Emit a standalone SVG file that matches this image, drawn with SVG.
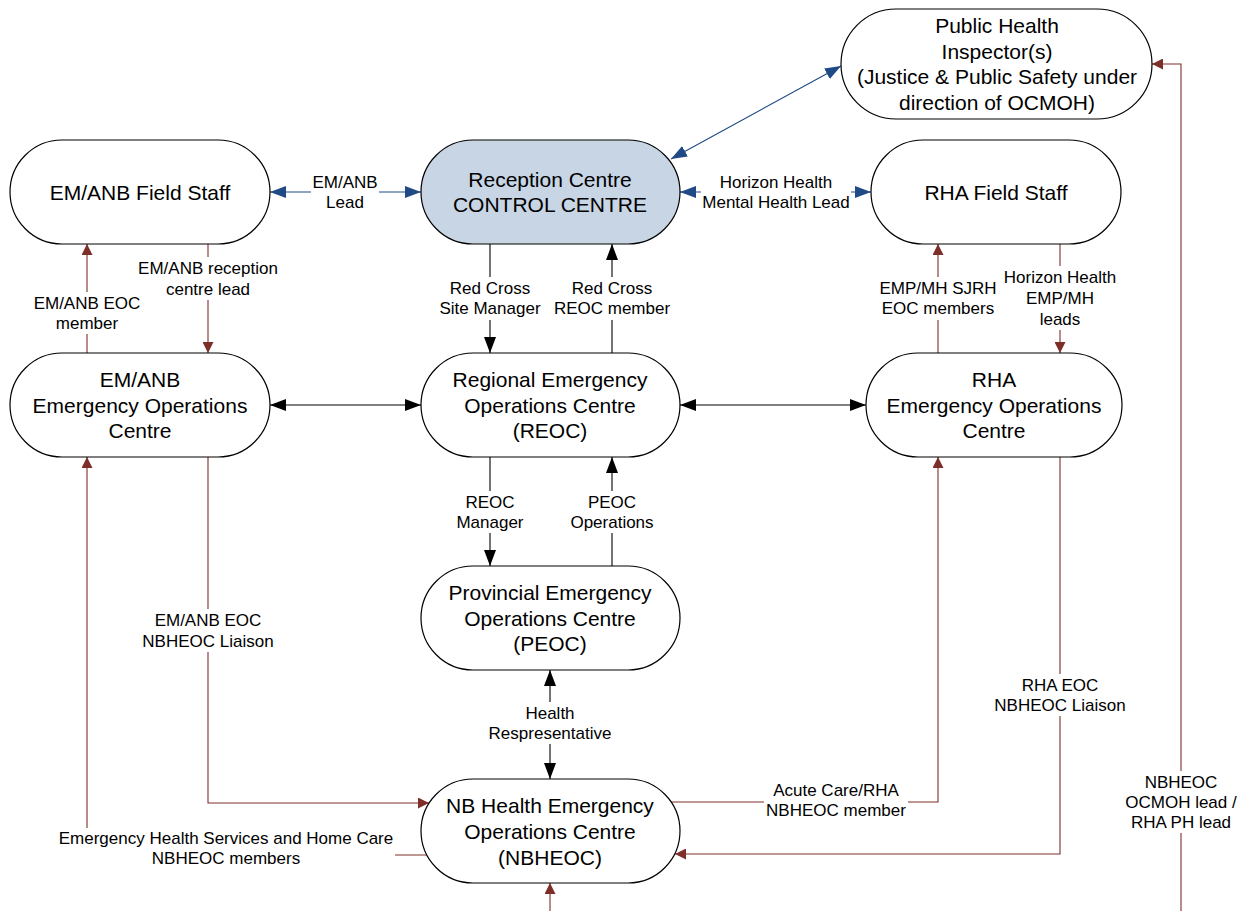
<svg xmlns="http://www.w3.org/2000/svg" width="1244" height="911" viewBox="0 0 1244 911">
<style>
.node{fill:#ffffff;stroke:#000;stroke-width:1.2}
.rc{fill:#c7d5e4}
.nt{font-family:"Liberation Sans",Arial,sans-serif;font-size:21px;text-anchor:middle;fill:#000}
.lt{font-family:"Liberation Sans",Arial,sans-serif;font-size:17px;text-anchor:middle;fill:#000}
.bg{fill:#ffffff}
.k{fill:none;stroke:#000;stroke-width:1.1}
.b{fill:none;stroke:#1f4a85;stroke-width:1.1}
.m{fill:none;stroke:#7e2e28;stroke-width:1.1}
</style>
<defs>
<marker id="ak" markerUnits="userSpaceOnUse" markerWidth="16" markerHeight="12" refX="16" refY="6" orient="auto-start-reverse"><path d="M0,0 L16,6 L0,12 z" fill="#000"/></marker>
<marker id="ab" markerUnits="userSpaceOnUse" markerWidth="16" markerHeight="12" refX="16" refY="6" orient="auto-start-reverse"><path d="M0,0 L16,6 L0,12 z" fill="#1f4a85"/></marker>
<marker id="am" markerUnits="userSpaceOnUse" markerWidth="11" markerHeight="11" refX="11" refY="5.5" orient="auto-start-reverse"><path d="M0,0 L11,5.5 L0,11 z" fill="#7e2e28"/></marker>
</defs>
<rect width="1244" height="911" fill="#ffffff"/>

<g id="connectors">
<path class="b" d="M270,192 H421" marker-start="url(#ab)" marker-end="url(#ab)"/>
<path class="b" d="M671,159 L841,66" marker-start="url(#ab)" marker-end="url(#ab)"/>
<path class="b" d="M680,192 H871" marker-start="url(#ab)" marker-end="url(#ab)"/>
<path class="k" d="M490,244 V353" marker-end="url(#ak)"/>
<path class="k" d="M612,353 V244" marker-end="url(#ak)"/>
<path class="k" d="M270,405 H421" marker-start="url(#ak)" marker-end="url(#ak)"/>
<path class="k" d="M680,405 H866" marker-start="url(#ak)" marker-end="url(#ak)"/>
<path class="k" d="M490,457 V566" marker-end="url(#ak)"/>
<path class="k" d="M612,566 V457" marker-end="url(#ak)"/>
<path class="k" d="M550,779 V670" marker-start="url(#ak)" marker-end="url(#ak)"/>
<path class="m" d="M87,353 V244" marker-end="url(#am)"/>
<path class="m" d="M208,244 V353" marker-end="url(#am)"/>
<path class="m" d="M938,353 V244" marker-end="url(#am)"/>
<path class="m" d="M1060,244 V353" marker-end="url(#am)"/>
<path class="m" d="M208,457 V803 H429" marker-end="url(#am)"/>
<path class="m" d="M427,855 H87 V457" marker-end="url(#am)"/>
<path class="m" d="M671,802 H938 V457" marker-end="url(#am)"/>
<path class="m" d="M1060,457 V854 H675" marker-end="url(#am)"/>
<path class="m" d="M1181,911 V64 H1152" marker-end="url(#am)"/>
<path class="m" d="M550,911 V883" marker-end="url(#am)"/>

<g id="labels">
<rect class="bg" x="311" y="170" width="68" height="43"/>
<text class="lt" x="345" y="188">EM/ANB</text><text class="lt" x="345" y="208">Lead</text>
<rect class="bg" x="701" y="170" width="150" height="43"/>
<text class="lt" x="776" y="188">Horizon Health</text><text class="lt" x="776" y="208">Mental Health Lead</text>
<rect class="bg" x="437" y="277" width="106" height="43"/>
<text class="lt" x="490" y="294">Red Cross</text><text class="lt" x="490" y="314">Site Manager</text>
<rect class="bg" x="553" y="277" width="118" height="43"/>
<text class="lt" x="612" y="294">Red Cross</text><text class="lt" x="612" y="314">REOC member</text>
<rect class="bg" x="136" y="257" width="144" height="43"/>
<text class="lt" x="208" y="274">EM/ANB reception</text><text class="lt" x="208" y="295">centre lead</text>
<rect class="bg" x="26" y="292" width="122" height="42"/>
<text class="lt" x="87" y="309">EM/ANB EOC</text><text class="lt" x="87" y="329">member</text>
<rect class="bg" x="878" y="277" width="120" height="43"/>
<text class="lt" x="938" y="294">EMP/MH SJRH</text><text class="lt" x="938" y="314">EOC members</text>
<rect class="bg" x="1002" y="266" width="116" height="64"/>
<text class="lt" x="1060" y="283">Horizon Health</text><text class="lt" x="1060" y="304">EMP/MH</text><text class="lt" x="1060" y="325">leads</text>
<rect class="bg" x="454" y="491" width="72" height="42"/>
<text class="lt" x="490" y="508">REOC</text><text class="lt" x="490" y="528">Manager</text>
<rect class="bg" x="568" y="491" width="88" height="42"/>
<text class="lt" x="612" y="508">PEOC</text><text class="lt" x="612" y="528">Operations</text>
<rect class="bg" x="487" y="702" width="126" height="42"/>
<text class="lt" x="550" y="719">Health</text><text class="lt" x="550" y="739">Respresentative</text>
<rect class="bg" x="141" y="609" width="134" height="43"/>
<text class="lt" x="208" y="626">EM/ANB EOC</text><text class="lt" x="208" y="647">NBHEOC Liaison</text>
<rect class="bg" x="57" y="828" width="338" height="42"/>
<text class="lt" x="226" y="844">Emergency Health Services and Home Care</text><text class="lt" x="226" y="864">NBHEOC members</text>
<rect class="bg" x="764" y="779" width="144" height="42"/>
<text class="lt" x="836" y="796">Acute Care/RHA</text><text class="lt" x="836" y="816">NBHEOC member</text>
<rect class="bg" x="993" y="674" width="134" height="42"/>
<text class="lt" x="1060" y="691">RHA EOC</text><text class="lt" x="1060" y="711">NBHEOC Liaison</text>
<rect class="bg" x="1123" y="771" width="116" height="62"/>
<text class="lt" x="1181" y="788">NBHEOC</text><text class="lt" x="1181" y="808">OCMOH lead /</text><text class="lt" x="1181" y="828">RHA PH lead</text>
</g>
</g>

<g id="emanb-field">
<rect class="node" x="10" y="140" width="260" height="104" rx="52" ry="52"/>
<text class="nt" x="140" y="199.5">EM/ANB Field Staff</text>
</g>
<g id="reception">
<rect class="node rc" x="421" y="140" width="259" height="104" rx="52" ry="52"/>
<text class="nt" x="550" y="186.5">Reception Centre</text>
<text class="nt" x="550" y="211.5">CONTROL CENTRE</text>
</g>
<g id="rha-field">
<rect class="node" x="871" y="140" width="250" height="104" rx="52" ry="52"/>
<text class="nt" x="996" y="199.5">RHA Field Staff</text>
</g>
<g id="phi">
<rect class="node" x="841" y="9" width="311" height="110" rx="55" ry="55"/>
<text class="nt" x="997" y="32.5">Public Health</text>
<text class="nt" x="997" y="58.5">Inspector(s)</text>
<text class="nt" x="997" y="83.5">(Justice &amp; Public Safety under</text>
<text class="nt" x="997" y="109.5">direction of OCMOH)</text>
</g>
<g id="emanb-eoc">
<rect class="node" x="10" y="353" width="260" height="104" rx="52" ry="52"/>
<text class="nt" x="140" y="386.5">EM/ANB</text>
<text class="nt" x="140" y="412.5">Emergency Operations</text>
<text class="nt" x="140" y="437.5">Centre</text>
</g>
<g id="reoc">
<rect class="node" x="421" y="353" width="259" height="104" rx="52" ry="52"/>
<text class="nt" x="550" y="386.5">Regional Emergency</text>
<text class="nt" x="550" y="412.5">Operations Centre</text>
<text class="nt" x="550" y="437.5">(REOC)</text>
</g>
<g id="rha-eoc">
<rect class="node" x="866" y="353" width="256" height="104" rx="52" ry="52"/>
<text class="nt" x="994" y="386.5">RHA</text>
<text class="nt" x="994" y="412.5">Emergency Operations</text>
<text class="nt" x="994" y="437.5">Centre</text>
</g>
<g id="peoc">
<rect class="node" x="421" y="566" width="259" height="104" rx="52" ry="52"/>
<text class="nt" x="550" y="599.5">Provincial Emergency</text>
<text class="nt" x="550" y="625.5">Operations Centre</text>
<text class="nt" x="550" y="650.5">(PEOC)</text>
</g>
<g id="nbheoc">
<rect class="node" x="421" y="779" width="259" height="104" rx="52" ry="52"/>
<text class="nt" x="550" y="812.5">NB Health Emergency</text>
<text class="nt" x="550" y="838.5">Operations Centre</text>
<text class="nt" x="550" y="864.5">(NBHEOC)</text>
</g>
</svg>
